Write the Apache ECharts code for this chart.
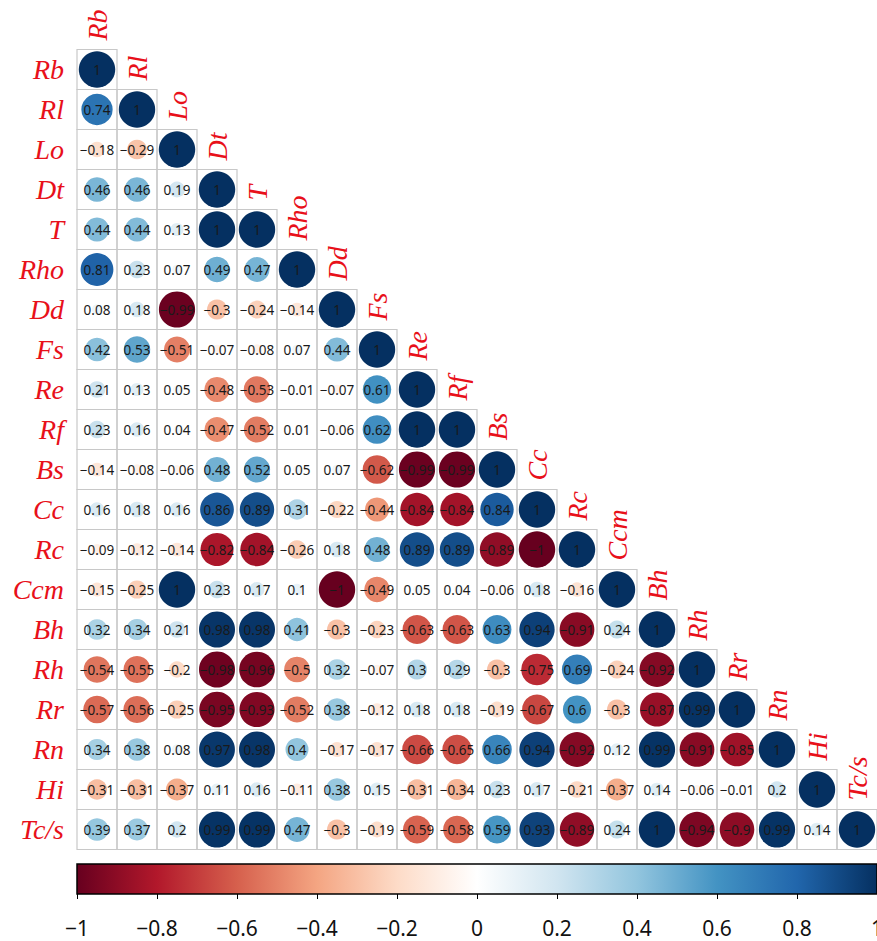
<!DOCTYPE html>
<html>
<head>
<meta charset="utf-8">
<title>Correlation matrix</title>
<script src="https://cdn.jsdelivr.net/npm/echarts@6/dist/echarts.min.js"></script>
<style>
    html, body { margin: 0; padding: 0; background: #fff; overflow: hidden; }
    #corr-chart { width: 877px; height: 941px; }
</style>
</head>
<body>
<div id="corr-chart"></div>
<script>
const VARIABLES = ['Rb', 'Rl', 'Lo', 'Dt', 'T', 'Rho', 'Dd', 'Fs', 'Re', 'Rf',
    'Bs', 'Cc', 'Rc', 'Ccm', 'Bh', 'Rh', 'Rr', 'Rn', 'Hi', 'Tc/s'];

// lower triangle, row by row (row i holds columns 0..i)
const CORR_ROWS = [
    [1],
    [0.74, 1],
    [-0.18, -0.29, 1],
    [0.46, 0.46, 0.19, 1],
    [0.44, 0.44, 0.13, 1, 1],
    [0.81, 0.23, 0.07, 0.49, 0.47, 1],
    [0.08, 0.18, -0.99, -0.3, -0.24, -0.14, 1],
    [0.42, 0.53, -0.51, -0.07, -0.08, 0.07, 0.44, 1],
    [0.21, 0.13, 0.05, -0.48, -0.53, -0.01, -0.07, 0.61, 1],
    [0.23, 0.16, 0.04, -0.47, -0.52, 0.01, -0.06, 0.62, 1, 1],
    [-0.14, -0.08, -0.06, 0.48, 0.52, 0.05, 0.07, -0.62, -0.99, -0.99, 1],
    [0.16, 0.18, 0.16, 0.86, 0.89, 0.31, -0.22, -0.44, -0.84, -0.84, 0.84, 1],
    [-0.09, -0.12, -0.14, -0.82, -0.84, -0.26, 0.18, 0.48, 0.89, 0.89, -0.89, -1, 1],
    [-0.15, -0.25, 1, 0.23, 0.17, 0.1, -1, -0.49, 0.05, 0.04, -0.06, 0.18, -0.16, 1],
    [0.32, 0.34, 0.21, 0.98, 0.98, 0.41, -0.3, -0.23, -0.63, -0.63, 0.63, 0.94, -0.91, 0.24, 1],
    [-0.54, -0.55, -0.2, -0.98, -0.96, -0.5, 0.32, -0.07, 0.3, 0.29, -0.3, -0.75, 0.69, -0.24, -0.92, 1],
    [-0.57, -0.56, -0.25, -0.95, -0.93, -0.52, 0.38, -0.12, 0.18, 0.18, -0.19, -0.67, 0.6, -0.3, -0.87, 0.99, 1],
    [0.34, 0.38, 0.08, 0.97, 0.98, 0.4, -0.17, -0.17, -0.66, -0.65, 0.66, 0.94, -0.92, 0.12, 0.99, -0.91, -0.85, 1],
    [-0.31, -0.31, -0.37, 0.11, 0.16, -0.11, 0.38, 0.15, -0.31, -0.34, 0.23, 0.17, -0.21, -0.37, 0.14, -0.06, -0.01, 0.2, 1],
    [0.39, 0.37, 0.2, 0.99, 0.99, 0.47, -0.3, -0.19, -0.59, -0.58, 0.59, 0.93, -0.89, 0.24, 1, -0.94, -0.9, 0.99, 0.14, 1]
];

// colour bar range and tick step
const BAR_MIN = -1;
const BAR_MAX = 1;
const BAR_STEP = 0.2;

const RDBU = ['#67001f', '#b2182b', '#d6604d', '#f4a582', '#fddbc7', '#ffffff',
    '#d1e5f0', '#92c5de', '#4393c3', '#2166ac', '#053061'];
const LABEL_RED = '#e8101a';
const LABEL_FONT = '"Liberation Serif", "DejaVu Serif", serif';

function fmt(v) {
    return String(v).replace('-', '\u2212');
}

let cells = [];
CORR_ROWS.forEach(function (row, ri) {
    row.forEach(function (v, ci) {
        cells.push([ci, ri, v]);
    });
});

let chart = echarts.init(document.getElementById('corr-chart'), null, {renderer: 'svg'});

let option = {
    animation: false,
    backgroundColor: '#fff',
    grid: [
        {left: 77, top: 49.5, width: 800, height: 800, outerBoundsMode: 'none'},
        {left: 77, top: 864, width: 800, height: 30, outerBoundsMode: 'none'}
    ],
    xAxis: [
        {
            gridIndex: 0,
            type: 'category',
            data: VARIABLES,
            position: 'top',
            axisLine: {show: false},
            axisTick: {show: false},
            axisLabel: {show: false},
            splitLine: {show: false}
        },
        {
            gridIndex: 1,
            type: 'value',
            min: BAR_MIN,
            max: BAR_MAX,
            interval: BAR_STEP,
            position: 'bottom',
            axisLine: {show: false},
            axisTick: {show: true, length: 5, lineStyle: {color: '#000', width: 1}},
            splitLine: {show: false},
            axisLabel: {
                margin: 23,
                fontSize: 21,
                fontFamily: '"Noto Sans", sans-serif',
                color: '#111',
                showMaxLabel: true,
                showMinLabel: true,
                hideOverlap: false,
                formatter: function (v) { return fmt(Math.round(v * 10) / 10); }
            }
        }
    ],
    yAxis: [
        {
            gridIndex: 0,
            type: 'category',
            data: VARIABLES,
            inverse: true,
            axisLine: {show: false},
            axisTick: {show: false},
            splitLine: {show: false},
            axisLabel: {
                margin: 13,
                fontSize: 28,
                fontStyle: 'italic',
                fontFamily: LABEL_FONT,
                color: LABEL_RED
            }
        },
        {
            gridIndex: 1,
            type: 'value',
            min: 0,
            max: 1,
            show: false
        }
    ],
    visualMap: {
        show: false,
        type: 'continuous',
        min: BAR_MIN,
        max: BAR_MAX,
        dimension: 2,
        seriesIndex: 0,
        inRange: {color: RDBU}
    },
    series: [
        {
            type: 'custom',
            xAxisIndex: 0,
            yAxisIndex: 0,
            clip: false,
            data: cells,
            renderItem: function (params, api) {
                let ci = api.value(0), ri = api.value(1), v = api.value(2);
                let c = api.coord([ci, ri]);
                let s = api.size([1, 1]);
                let w = s[0], h = s[1];
                let children = [
                    {
                        type: 'rect',
                        shape: {x: c[0] - w / 2, y: c[1] - h / 2, width: w, height: h},
                        style: {fill: 'none', stroke: '#c8c8c8', lineWidth: 1.2}
                    },
                    {
                        type: 'circle',
                        shape: {cx: c[0], cy: c[1], r: 0.455 * w * Math.sqrt(Math.abs(v))},
                        style: {fill: api.visual('color')}
                    },
                    {
                        type: 'text',
                        x: c[0],
                        y: c[1],
                        z2: 5,
                        style: {
                            text: fmt(v),
                            align: 'center',
                            verticalAlign: 'middle',
                            font: '13.5px "Noto Sans", sans-serif',
                            fill: '#1a1a1a'
                        }
                    }
                ];
                if (ci === ri) {
                    children.push({
                        type: 'text',
                        x: c[0],
                        y: c[1] - h / 2 - 9,
                        rotation: Math.PI / 2,
                        style: {
                            text: VARIABLES[ci],
                            align: 'left',
                            verticalAlign: 'middle',
                            font: 'italic 28px ' + LABEL_FONT,
                            fill: LABEL_RED
                        }
                    });
                }
                return {type: 'group', children: children};
            }
        },
        {
            /* colour bar */
            type: 'custom',
            xAxisIndex: 1,
            yAxisIndex: 1,
            clip: false,
            data: [[BAR_MIN, BAR_MAX]],
            renderItem: function (params, api) {
                let p0 = api.coord([api.value(0), 1]);
                let p1 = api.coord([api.value(1), 0]);
                let stops = RDBU.map(function (col, k) {
                    return {offset: k / (RDBU.length - 1), color: col};
                });
                return {
                    type: 'rect',
                    shape: {x: p0[0], y: p0[1], width: p1[0] - p0[0], height: p1[1] - p0[1]},
                    style: {
                        fill: new echarts.graphic.LinearGradient(0, 0, 1, 0, stops),
                        stroke: '#000',
                        lineWidth: 1.5
                    }
                };
            }
        }
    ]
};
chart.setOption(option);

window.addEventListener('resize', function () {
    chart?.resize();
});
</script>
</body>
</html>
